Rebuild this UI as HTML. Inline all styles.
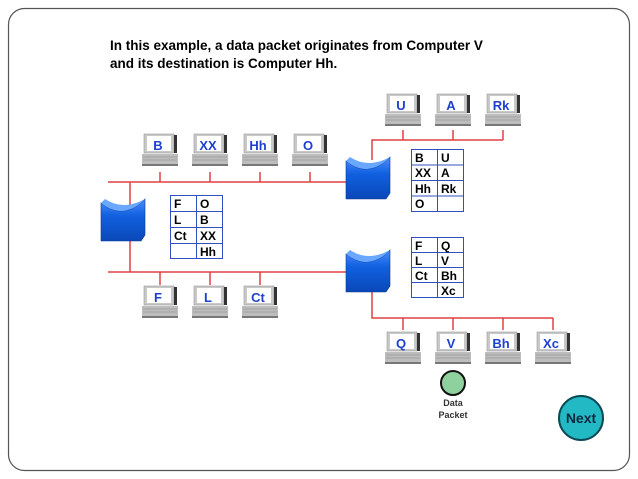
<!DOCTYPE html>
<html><head><style>
body{margin:0;background:#fff;width:638px;height:479px;overflow:hidden}
svg{display:block}
text{font-family:"Liberation Sans",Arial,sans-serif;font-weight:bold}
</style></head><body>
<svg width="638" height="479" viewBox="0 0 638 479">
<defs>
<linearGradient id="br" x1="0" y1="0" x2="0" y2="1"><stop offset="0" stop-color="#4d8dff"/><stop offset="0.4" stop-color="#1060e0"/><stop offset="1" stop-color="#0a48b8"/></linearGradient>
<g id="pc">
<rect x="-16" y="0" width="30" height="19" fill="#c8c8c8" stroke="#999" stroke-width="0.6"/>
<rect x="-13" y="2" width="24" height="15" fill="#fff"/>
<rect x="14" y="1" width="3" height="18" fill="#333"/>
<rect x="-18" y="20" width="36" height="10" fill="#bdbdbd"/>
<line x1="-17" y1="23" x2="17" y2="23" stroke="#999" stroke-width="0.8"/>
<line x1="-17" y1="26" x2="17" y2="26" stroke="#999" stroke-width="0.8"/>
<rect x="-18" y="30" width="36" height="2" fill="#777"/>
</g>
<g id="bridge">
<path d="M0,6 Q20,22 40,6 L44,2 L44,38 L40,44 L0,44 Z" fill="url(#br)" stroke="#0a3a90" stroke-width="0.6"/>
<path d="M0,6 Q20,22 40,6 L44,2 Q22,14 4,2 Z" fill="#6aa8ff"/>
</g>
</defs>
<rect x="8.5" y="8.5" width="621" height="462" rx="16" fill="#fff" stroke="#555" stroke-width="1.2"/>
<text x="110" y="50" font-size="13.5">In this example, a data packet originates from Computer V</text>
<text x="110" y="68" font-size="13.5">and its destination is Computer Hh.</text>
<g stroke="#e04040" stroke-width="1.5" fill="none">
<path d="M108,182 H348 M108,272 H350 M130,182 V272"/>
<path d="M160,172 V182 M210,172 V182 M260,172 V182 M310,172 V182"/>
<path d="M160,272 V285 M210,272 V285 M260,272 V285"/>
<path d="M372,160 V140 H503 M403,130 V140 M453,130 V140 M503,130 V140"/>
<path d="M372,290 V318 H553 M403,318 V330 M453,318 V330 M503,318 V330 M553,318 V330"/>
</g>
<use href="#bridge" x="101" y="197"/>
<use href="#bridge" x="346" y="155"/>
<use href="#bridge" x="346" y="248"/>
<g font-size="13" fill="#1e40d0" text-anchor="middle">
<use href="#pc" x="160" y="134"/><text x="158" y="150">B</text>
<use href="#pc" x="210" y="134"/><text x="208" y="150">XX</text>
<use href="#pc" x="260" y="134"/><text x="258" y="150">Hh</text>
<use href="#pc" x="310" y="134"/><text x="308" y="150">O</text>
<use href="#pc" x="160" y="286"/><text x="158" y="302">F</text>
<use href="#pc" x="210" y="286"/><text x="208" y="302">L</text>
<use href="#pc" x="260" y="286"/><text x="258" y="302">Ct</text>
<use href="#pc" x="403" y="94"/><text x="401" y="110">U</text>
<use href="#pc" x="453" y="94"/><text x="451" y="110">A</text>
<use href="#pc" x="503" y="94"/><text x="501" y="110">Rk</text>
<use href="#pc" x="403" y="332"/><text x="401" y="348">Q</text>
<use href="#pc" x="453" y="332"/><text x="451" y="348">V</text>
<use href="#pc" x="503" y="332"/><text x="501" y="348">Bh</text>
<use href="#pc" x="553" y="332"/><text x="551" y="348">Xc</text>
</g>
<g stroke="#3050c0" stroke-width="1" fill="#fff">
<rect x="170.5" y="195.5" width="52" height="63"/><path d="M196.5,195.5 V258.5 M170.5,211.5 H222.5 M170.5,227.5 H222.5 M170.5,243.5 H222.5"/>
<rect x="411.5" y="149.5" width="52" height="62"/><path d="M437.5,149.5 V211.5 M411.5,165 H463.5 M411.5,180.5 H463.5 M411.5,196 H463.5"/>
<rect x="411.5" y="237.5" width="52" height="60"/><path d="M437.5,237.5 V297.5 M411.5,252.5 H463.5 M411.5,267.5 H463.5 M411.5,282.5 H463.5"/>
</g>
<g font-size="12" fill="#000">
<text x="174" y="208">F</text><text x="200" y="208">O</text>
<text x="174" y="224">L</text><text x="200" y="224">B</text>
<text x="174" y="240">Ct</text><text x="200" y="240">XX</text>
<text x="200" y="256">Hh</text>
<text x="415" y="162">B</text><text x="441" y="162">U</text>
<text x="415" y="177">XX</text><text x="441" y="177">A</text>
<text x="415" y="193">Hh</text><text x="441" y="193">Rk</text>
<text x="415" y="208">O</text>
<text x="415" y="250">F</text><text x="441" y="250">Q</text>
<text x="415" y="265">L</text><text x="441" y="265">V</text>
<text x="415" y="280">Ct</text><text x="441" y="280">Bh</text>
<text x="441" y="295">Xc</text>
</g>
<circle cx="453" cy="383" r="12" fill="#8fd19e" stroke="#111" stroke-width="2"/>
<text x="453" y="406" font-size="9" text-anchor="middle" fill="#333">Data</text>
<text x="453" y="418" font-size="9" text-anchor="middle" fill="#333">Packet</text>
<circle cx="581" cy="418" r="22" fill="#22b8c4" stroke="#0a4a55" stroke-width="2"/>
<text x="581" y="423" font-size="14" text-anchor="middle" fill="#0a2a40">Next</text>
</svg>
</body></html>
